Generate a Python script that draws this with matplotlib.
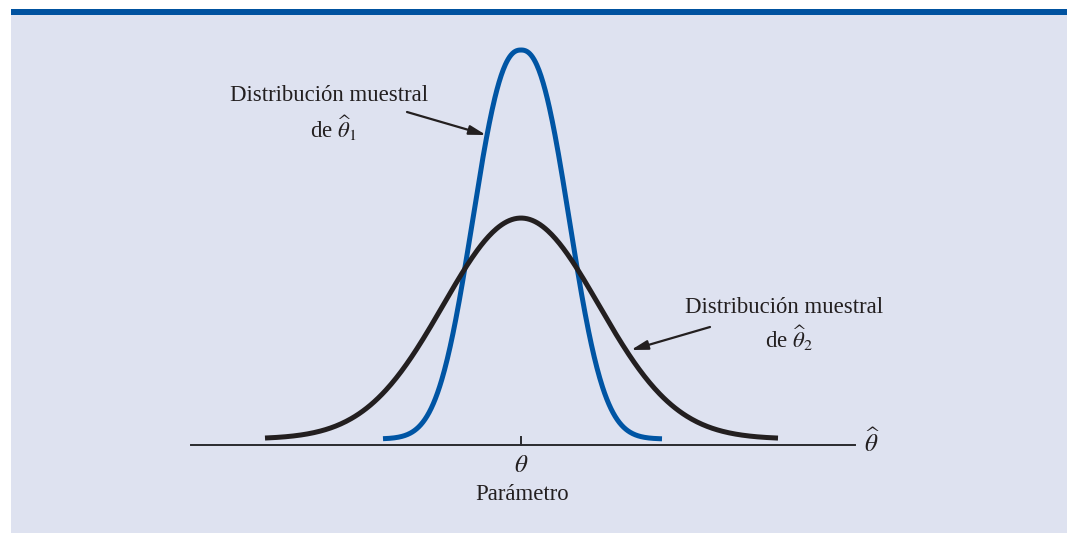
import numpy as np
import matplotlib
matplotlib.use("Agg")
import matplotlib.pyplot as plt
from matplotlib.patches import Rectangle

plt.rcParams['mathtext.fontset'] = 'stix'
plt.rcParams['font.family'] = ['Liberation Serif', 'DejaVu Serif']

# ---- data (abstract units) ----
curve_names = ["theta1", "theta2"]
curve_scale = [1.218, 2.20]      # width parameter
curve_shape = [2.4, 2.0]         # shape exponent
curve_peak = [1.0, 0.568]        # peak height above offset
curve_offset = [0.0154, 0.0154]
curve_xmin = [-2.76, -5.12]
curve_xmax = [2.82, 5.14]
curve_colors = ["#0055a4", "#231f20"]
theta_center = 0.0
axis_xmin, axis_xmax = -6.6, 6.68

W, H = 1067, 533
fig = plt.figure(figsize=(W / 100, H / 100), dpi=100)
fig.patch.set_facecolor("white")

# panel background + top bar (figure coords)
fig.patches.append(Rectangle((11 / W, 0), 1 - 11 / W, 1 - 15 / H,
                             transform=fig.transFigure, facecolor="#dee2f0",
                             edgecolor="none", zorder=-2))
fig.patches.append(Rectangle((11 / W, 1 - 15 / H), 1 - 11 / W, 6 / H,
                             transform=fig.transFigure, facecolor="#0052a0",
                             edgecolor="none", zorder=-2))

ax = fig.add_axes([0, 0, 1, 1])
ax.set_facecolor("none")
XU, YU = 50.0, 389.0
X0, Y0 = 521.0, 445.0
ax.set_xlim(-X0 / XU, (W - X0) / XU)
ax.set_ylim(-(H - Y0) / YU, Y0 / YU)
ax.axis("off")


def P(px, py):
    return ((px - X0) / XU, (Y0 - py) / YU)


for s, p, a, c, x0, x1, col in zip(curve_scale, curve_shape, curve_peak,
                                   curve_offset, curve_xmin, curve_xmax, curve_colors):
    x = np.linspace(x0, x1, 400)
    y = c + a * np.exp(-(np.abs(x - theta_center) / s) ** p)
    ax.plot(x, y, color=col, lw=3.6, solid_capstyle="butt", zorder=3)

# baseline and tick
ax.plot([axis_xmin, axis_xmax], [0, 0], color="#2a2a2e", lw=1.4, zorder=2)
ax.plot([theta_center, theta_center], [0, 8 / YU], color="#2a2a2e", lw=1.4, zorder=2)

tc = "#231f20"
fs = 16.4
ax.text(*P(872, 443), r'$\widehat{\theta}$', fontsize=18, ha="center", va="center", color=tc)
ax.text(*P(521, 466), r'$\theta$', fontsize=18, ha="center", va="center", color=tc)
ax.text(*P(522, 495), "Parámetro", fontsize=fs, ha="center", va="center", color=tc)

ax.text(*P(329, 95), "Distribución muestral", fontsize=fs, ha="center", va="center", color=tc)
ax.text(*P(333, 128), r'de $\widehat{\theta}_1$', fontsize=fs, ha="center", va="center", color=tc)
ax.text(*P(784, 307), "Distribución muestral", fontsize=fs, ha="center", va="center", color=tc)
ax.text(*P(789, 338), r'de $\widehat{\theta}_2$', fontsize=fs, ha="center", va="center", color=tc)

arrowprops = dict(arrowstyle="-|>,head_length=1.0,head_width=0.28", color=tc, lw=1.6,
                  shrinkA=0, shrinkB=0)
ax.annotate("", xy=P(486, 135), xytext=P(407, 112), arrowprops=arrowprops, zorder=4)
ax.annotate("", xy=P(631, 350), xytext=P(710, 327), arrowprops=arrowprops, zorder=4)

fig.savefig("out.png", dpi=100, facecolor="white")
